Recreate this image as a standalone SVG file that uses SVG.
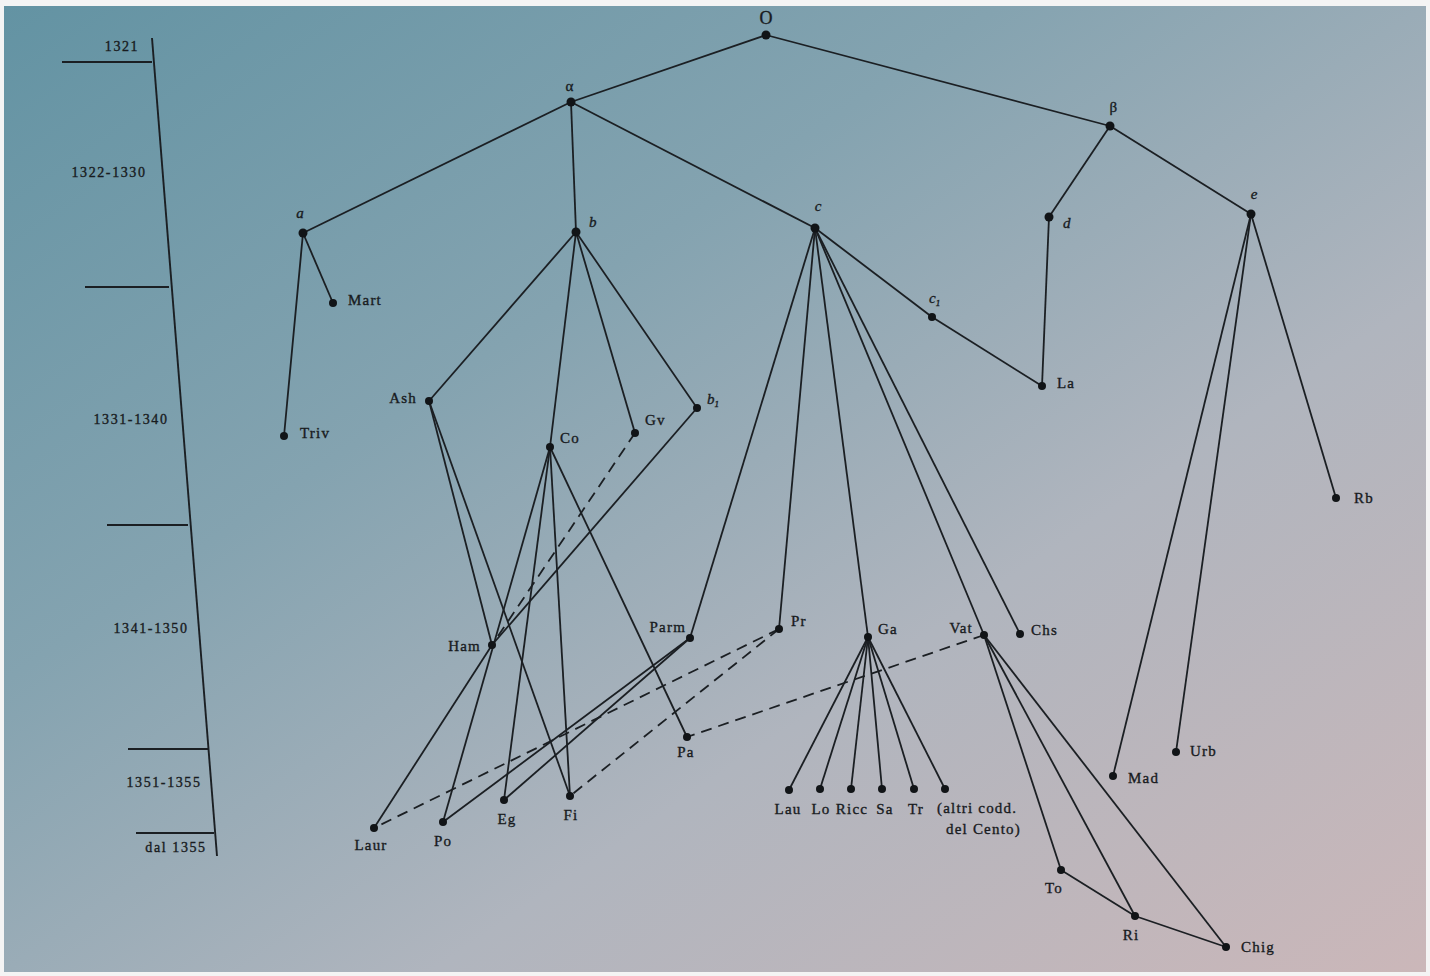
<svg xmlns="http://www.w3.org/2000/svg" width="1430" height="976" viewBox="0 0 1430 976">
<defs>
<linearGradient id="bg" x1="0" y1="0" x2="1" y2="1">
<stop offset="0" stop-color="#6393a3"/>
<stop offset="0.35" stop-color="#84a3b0"/>
<stop offset="0.65" stop-color="#b0b5be"/>
<stop offset="1" stop-color="#cbb7b9"/>
</linearGradient>
<style>
.e{stroke:#1b1f23;stroke-width:1.8;fill:none}
.d{stroke:#1b1f23;stroke-width:1.8;fill:none;stroke-dasharray:11 7}
.t{stroke:#1b1f23;stroke-width:1.9;fill:none}
.n{fill:#111417}
text{font-family:"Liberation Serif",serif;font-size:15px;letter-spacing:1.2px;fill:#181b1e;stroke:#181b1e;stroke-width:0.35}
.i{font-style:italic;letter-spacing:0}
.s{font-size:14px;letter-spacing:1.6px}
</style>
</defs>
<rect width="1430" height="976" fill="#f4f4f4"/>
<rect x="4" y="6" width="1422" height="966" fill="url(#bg)"/>

<g id="timeline">
<line class="t" x1="152" y1="38" x2="217" y2="856"/>
<line class="t" x1="62" y1="62" x2="152" y2="62"/>
<line class="t" x1="85" y1="287" x2="169" y2="287"/>
<line class="t" x1="107" y1="525" x2="188" y2="525"/>
<line class="t" x1="128" y1="749" x2="208" y2="749"/>
<line class="t" x1="136" y1="833" x2="214" y2="833"/>
<text class="s" x="122" y="51" text-anchor="middle">1321</text>
<text class="s" x="109" y="177" text-anchor="middle">1322-1330</text>
<text class="s" x="131" y="424" text-anchor="middle">1331-1340</text>
<text class="s" x="151" y="633" text-anchor="middle">1341-1350</text>
<text class="s" x="164" y="787" text-anchor="middle">1351-1355</text>
<text class="s" x="176" y="852" text-anchor="middle">dal 1355</text>
</g>

<g id="connectors">
<line class="e" x1="766" y1="35" x2="571" y2="102"/>
<line class="e" x1="766" y1="35" x2="1110" y2="126"/>
<line class="e" x1="571" y1="102" x2="303" y2="233"/>
<line class="e" x1="571" y1="102" x2="576" y2="232"/>
<line class="e" x1="571" y1="102" x2="815" y2="228"/>
<line class="e" x1="1110" y1="126" x2="1049" y2="217"/>
<line class="e" x1="1110" y1="126" x2="1251" y2="214"/>
<line class="e" x1="303" y1="233" x2="333" y2="303"/>
<line class="e" x1="303" y1="233" x2="284" y2="436"/>
<line class="e" x1="576" y1="232" x2="429" y2="401"/>
<line class="e" x1="576" y1="232" x2="550" y2="447"/>
<line class="e" x1="576" y1="232" x2="635" y2="433"/>
<line class="e" x1="576" y1="232" x2="697" y2="408"/>
<line class="e" x1="815" y1="228" x2="932" y2="317"/>
<line class="e" x1="932" y1="317" x2="1042" y2="386"/>
<line class="e" x1="1049" y1="217" x2="1042" y2="386"/>
<line class="e" x1="815" y1="228" x2="690" y2="638"/>
<line class="e" x1="815" y1="228" x2="779" y2="629"/>
<line class="e" x1="815" y1="228" x2="868" y2="637"/>
<line class="e" x1="815" y1="228" x2="984" y2="635"/>
<line class="e" x1="815" y1="228" x2="1020" y2="634"/>
<line class="e" x1="1251" y1="214" x2="1113" y2="776"/>
<line class="e" x1="1251" y1="214" x2="1176" y2="752"/>
<line class="e" x1="1251" y1="214" x2="1336" y2="498"/>
<line class="e" x1="429" y1="401" x2="492" y2="645"/>
<line class="e" x1="429" y1="401" x2="570" y2="796"/>
<line class="e" x1="697" y1="408" x2="492" y2="645"/>
<line class="e" x1="550" y1="447" x2="443" y2="822"/>
<line class="e" x1="550" y1="447" x2="504" y2="800"/>
<line class="e" x1="550" y1="447" x2="570" y2="796"/>
<line class="e" x1="550" y1="447" x2="687" y2="737"/>
<line class="e" x1="492" y1="645" x2="374" y2="828"/>
<line class="e" x1="690" y1="638" x2="443" y2="822"/>
<line class="e" x1="690" y1="638" x2="504" y2="800"/>
<line class="e" x1="868" y1="637" x2="789" y2="790"/>
<line class="e" x1="868" y1="637" x2="820" y2="789"/>
<line class="e" x1="868" y1="637" x2="851" y2="789"/>
<line class="e" x1="868" y1="637" x2="882" y2="789"/>
<line class="e" x1="868" y1="637" x2="914" y2="789"/>
<line class="e" x1="868" y1="637" x2="945" y2="789"/>
<line class="e" x1="984" y1="635" x2="1061" y2="870"/>
<line class="e" x1="984" y1="635" x2="1135" y2="916"/>
<line class="e" x1="984" y1="635" x2="1226" y2="947"/>
<line class="e" x1="1061" y1="870" x2="1135" y2="916"/>
<line class="e" x1="1135" y1="916" x2="1226" y2="947"/>
<line class="d" x1="635" y1="433" x2="492" y2="645"/>
<line class="d" x1="779" y1="629" x2="374" y2="828"/>
<line class="d" x1="779" y1="629" x2="570" y2="796"/>
<line class="d" x1="984" y1="635" x2="687" y2="737"/>
</g>

<g id="n-O"><circle class="n" cx="766" cy="35" r="4.5"/><text x="766" y="24" text-anchor="middle" style="font-size:18px;letter-spacing:0">O</text></g>
<g id="n-alpha"><circle class="n" cx="571" cy="102" r="4.5"/><text x="570" y="91" text-anchor="middle">α</text></g>
<g id="n-beta"><circle class="n" cx="1110" cy="126" r="4.5"/><text x="1114" y="112" text-anchor="middle">β</text></g>
<g id="n-a"><circle class="n" cx="303" cy="233" r="4.5"/><text class="i" x="300" y="218" text-anchor="middle">a</text></g>
<g id="n-b"><circle class="n" cx="576" cy="232" r="4.5"/><text class="i" x="589" y="227">b</text></g>
<g id="n-c"><circle class="n" cx="815" cy="228" r="4.5"/><text class="i" x="818" y="211" text-anchor="middle">c</text></g>
<g id="n-d"><circle class="n" cx="1049" cy="217" r="4.5"/><text class="i" x="1063" y="228">d</text></g>
<g id="n-e"><circle class="n" cx="1251" cy="214" r="4.5"/><text class="i" x="1254" y="199" text-anchor="middle">e</text></g>
<g id="n-Mart"><circle class="n" cx="333" cy="303" r="4"/><text x="348" y="305">Mart</text></g>
<g id="n-Triv"><circle class="n" cx="284" cy="436" r="4"/><text x="300" y="438">Triv</text></g>
<g id="n-Ash"><circle class="n" cx="429" cy="401" r="4"/><text x="417" y="403" text-anchor="end">Ash</text></g>
<g id="n-Co"><circle class="n" cx="550" cy="447" r="4"/><text x="560" y="443">Co</text></g>
<g id="n-Gv"><circle class="n" cx="635" cy="433" r="4"/><text x="645" y="425">Gv</text></g>
<g id="n-b1"><circle class="n" cx="697" cy="408" r="4"/><text class="i" x="707" y="404">b<tspan style="font-size:9px" dy="3">1</tspan></text></g>
<g id="n-c1"><circle class="n" cx="932" cy="317" r="4"/><text class="i" x="929" y="303">c<tspan style="font-size:9px" dy="3">1</tspan></text></g>
<g id="n-La"><circle class="n" cx="1042" cy="386" r="4"/><text x="1057" y="388">La</text></g>
<g id="n-Rb"><circle class="n" cx="1336" cy="498" r="4"/><text x="1354" y="503">Rb</text></g>
<g id="n-Ham"><circle class="n" cx="492" cy="645" r="4"/><text x="481" y="651" text-anchor="end">Ham</text></g>
<g id="n-Parm"><circle class="n" cx="690" cy="638" r="4"/><text x="686" y="632" text-anchor="end">Parm</text></g>
<g id="n-Pr"><circle class="n" cx="779" cy="629" r="4"/><text x="791" y="626">Pr</text></g>
<g id="n-Ga"><circle class="n" cx="868" cy="637" r="4"/><text x="878" y="634">Ga</text></g>
<g id="n-Vat"><circle class="n" cx="984" cy="635" r="4"/><text x="973" y="633" text-anchor="end">Vat</text></g>
<g id="n-Chs"><circle class="n" cx="1020" cy="634" r="4"/><text x="1031" y="635">Chs</text></g>
<g id="n-Pa"><circle class="n" cx="687" cy="737" r="4"/><text x="686" y="757" text-anchor="middle">Pa</text></g>
<g id="n-Mad"><circle class="n" cx="1113" cy="776" r="4"/><text x="1128" y="783">Mad</text></g>
<g id="n-Urb"><circle class="n" cx="1176" cy="752" r="4"/><text x="1190" y="756">Urb</text></g>
<g id="n-Laur"><circle class="n" cx="374" cy="828" r="4"/><text x="371" y="850" text-anchor="middle">Laur</text></g>
<g id="n-Po"><circle class="n" cx="443" cy="822" r="4"/><text x="443" y="846" text-anchor="middle">Po</text></g>
<g id="n-Eg"><circle class="n" cx="504" cy="800" r="4"/><text x="507" y="824" text-anchor="middle">Eg</text></g>
<g id="n-Fi"><circle class="n" cx="570" cy="796" r="4"/><text x="571" y="820" text-anchor="middle">Fi</text></g>
<g id="n-Lau"><circle class="n" cx="789" cy="790" r="4"/><text x="788" y="814" text-anchor="middle">Lau</text></g>
<g id="n-Lo"><circle class="n" cx="820" cy="789" r="4"/><text x="821" y="814" text-anchor="middle">Lo</text></g>
<g id="n-Ricc"><circle class="n" cx="851" cy="789" r="4"/><text x="852" y="814" text-anchor="middle">Ricc</text></g>
<g id="n-Sa"><circle class="n" cx="882" cy="789" r="4"/><text x="885" y="814" text-anchor="middle">Sa</text></g>
<g id="n-Tr"><circle class="n" cx="914" cy="789" r="4"/><text x="916" y="814" text-anchor="middle">Tr</text></g>
<g id="n-altri"><circle class="n" cx="945" cy="789" r="4"/><text x="937" y="813">(altri codd.</text><text x="946" y="834">del Cento)</text></g>
<g id="n-To"><circle class="n" cx="1061" cy="870" r="4"/><text x="1054" y="893" text-anchor="middle">To</text></g>
<g id="n-Ri"><circle class="n" cx="1135" cy="916" r="4"/><text x="1131" y="940" text-anchor="middle">Ri</text></g>
<g id="n-Chig"><circle class="n" cx="1226" cy="947" r="4"/><text x="1241" y="952">Chig</text></g>
</svg>
